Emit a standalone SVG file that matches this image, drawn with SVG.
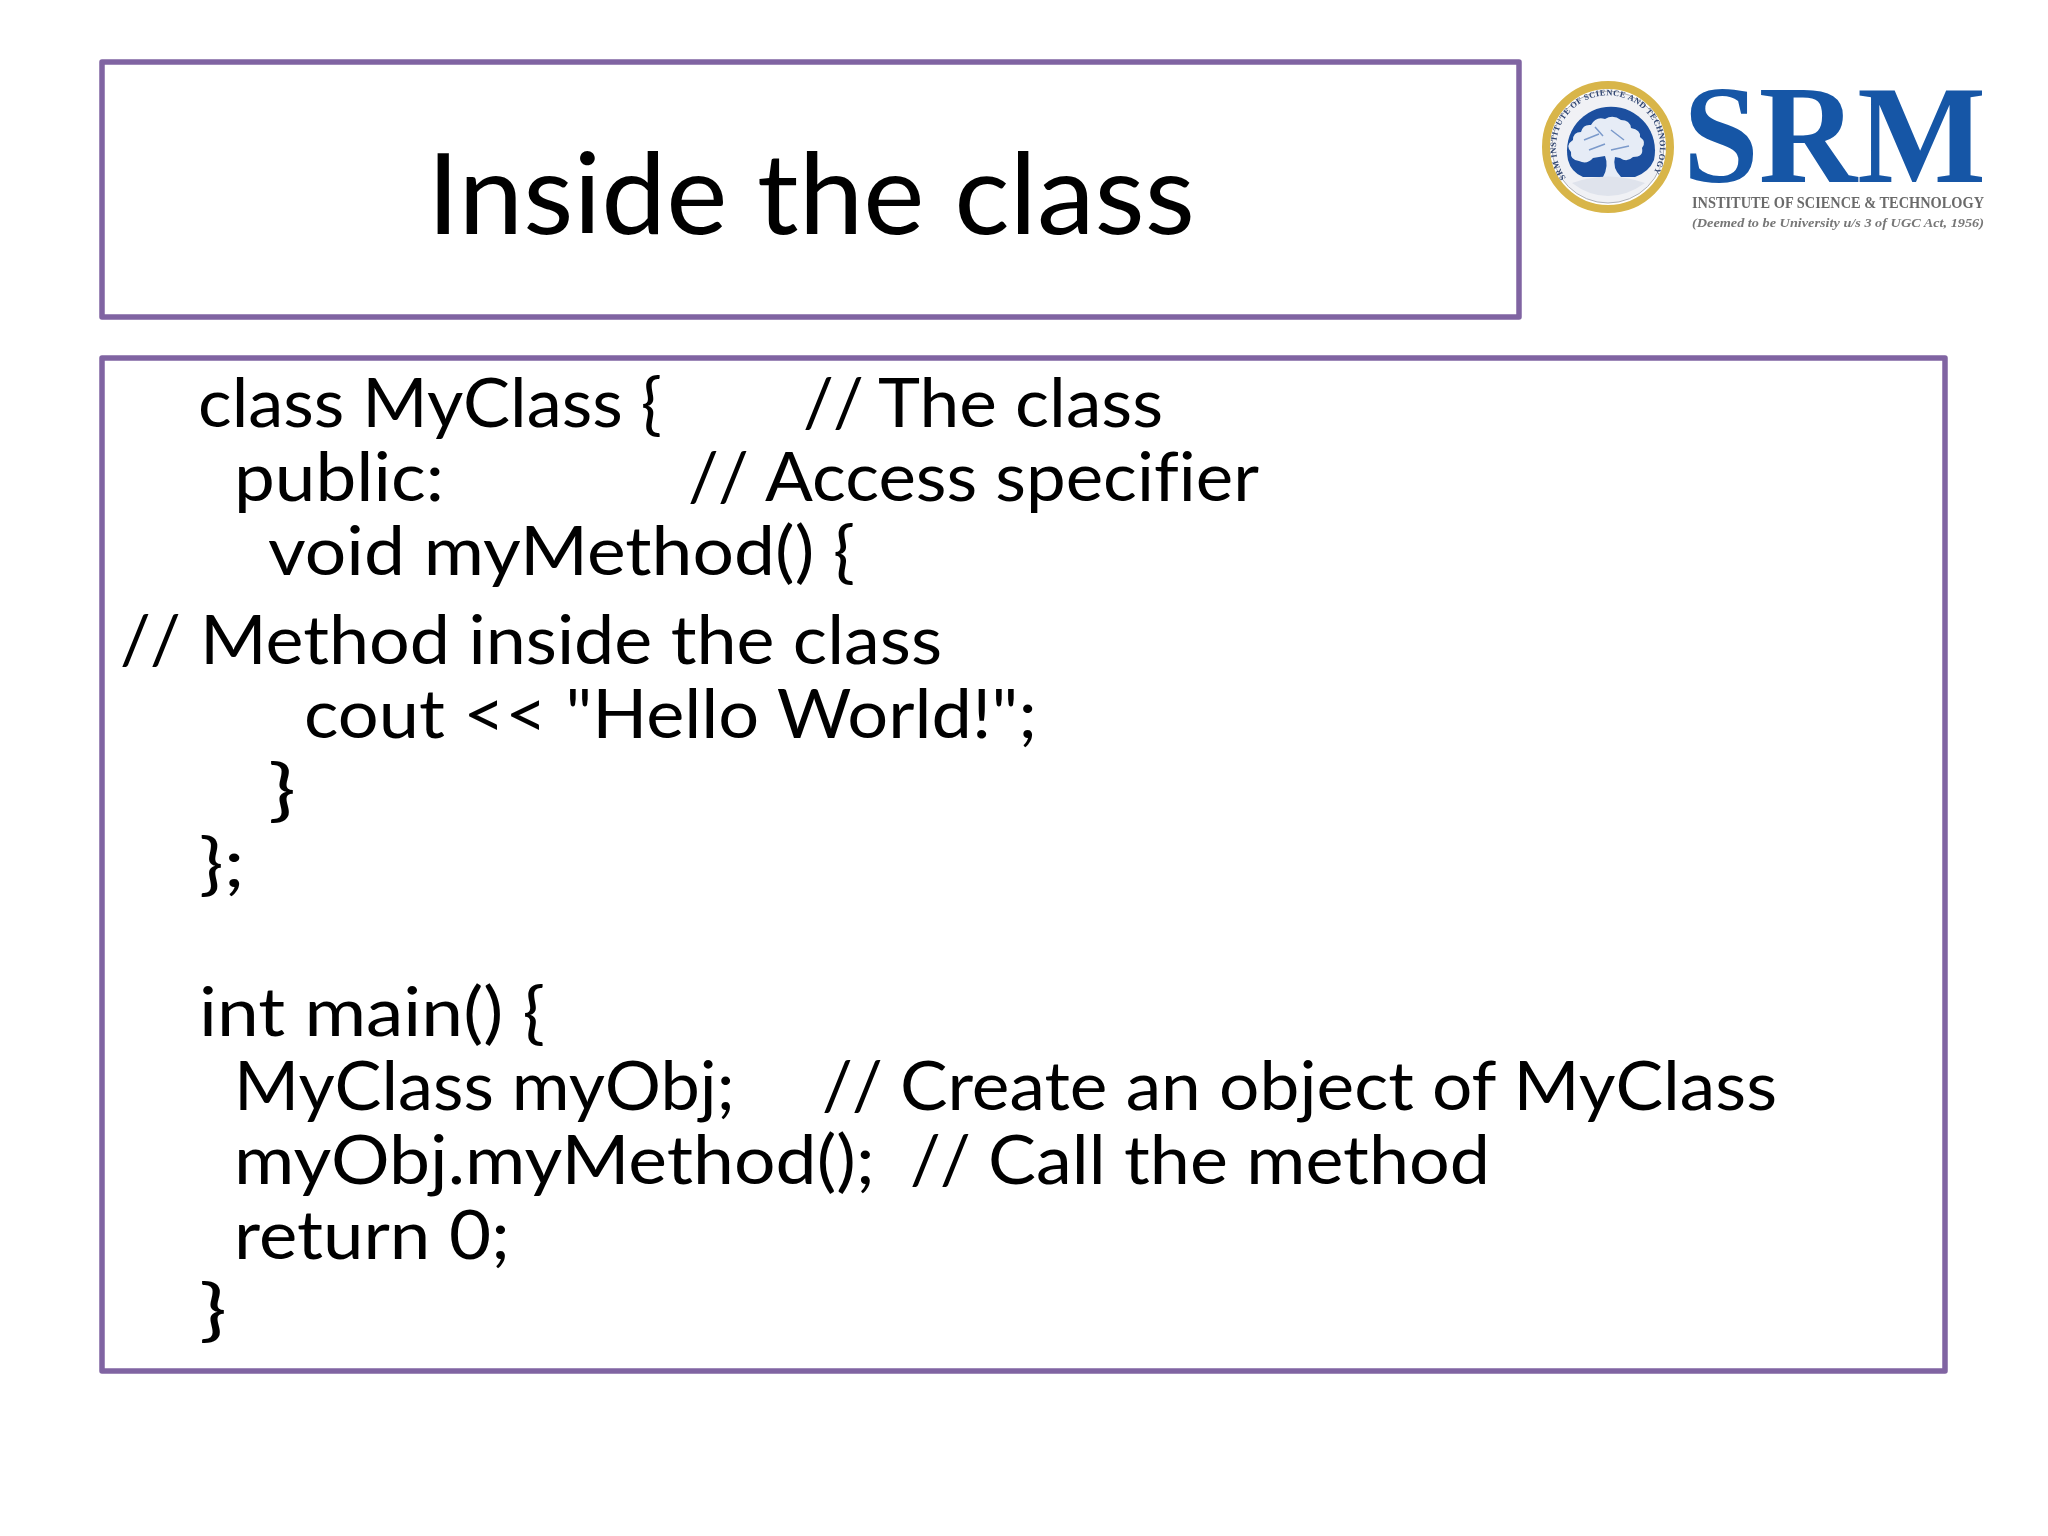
<svg xmlns="http://www.w3.org/2000/svg" width="2048" height="1536" viewBox="0 0 2048 1536">
<defs>
<style>
.box{fill:#fff;stroke:#8064a2;stroke-width:5.5;stroke-linejoin:round}
.t{font-family:"Lato","Carlito","Liberation Sans",sans-serif;fill:#000;font-size:68px;font-variant-ligatures:none}
.s{font-family:"Liberation Serif",serif}
</style>
<filter id="soft" x="-5%" y="-5%" width="110%" height="110%"><feGaussianBlur stdDeviation="0.7"/></filter>
<filter id="softer" x="-5%" y="-5%" width="110%" height="110%"><feGaussianBlur stdDeviation="0.45"/></filter>
<path id="ring" d="M1566 178A52 52 0 1 1 1650 178"/>
</defs>
<rect width="2048" height="1536" fill="#fff"/>
<g id="title-box">
<rect class="box" x="102" y="62" width="1417" height="255"/>
<text class="t" style="font-size:112px" x="427" y="234" textLength="768" lengthAdjust="spacingAndGlyphs">Inside the class</text>
</g>
<g id="logo">
<g filter="url(#soft)">
<circle cx="1608" cy="147" r="62" fill="#fff" stroke="#d8b548" stroke-width="8"/>
<circle cx="1608" cy="147" r="56" fill="#f0f1f5" stroke="#9a9ea8" stroke-width="0.8"/>
<path d="M1568 160A44 44 0 1 1 1654 160Q1649 172 1635 177L1583 177Q1571 172 1568 160Z" fill="#1a4f9f"/>
<path d="M1603 177Q1609 166 1605 156L1593 158Q1587 165 1579 161Q1570 160 1571 152Q1565 145 1573 140Q1573 132 1581 132Q1583 124 1591 125Q1596 116 1605 119Q1613 114 1621 120Q1630 120 1631 128Q1641 130 1640 137Q1647 142 1642 148Q1644 157 1633 157Q1627 163 1620 158L1615 157Q1612 168 1621 177Z" fill="#e6ecf6"/>
<path d="M1584 140L1599 134M1611 130L1624 140M1589 150L1605 144M1611 150L1629 146M1595 127L1603 136" stroke="#7b9acb" stroke-width="1.5" fill="none"/>
<path d="M1572 183Q1608 170 1645 183Q1627 196 1608 196Q1589 196 1572 183Z" fill="#dfe3ec"/>
<text class="s" font-size="8.5" font-weight="bold" fill="#2f4470" letter-spacing="0.45"><textPath href="#ring">SRM INSTITUTE OF SCIENCE AND TECHNOLOGY</textPath></text>
</g>
<g filter="url(#softer)">
<text class="s" x="1683" y="182" font-size="140" font-weight="bold" fill="#1556a6" textLength="303" lengthAdjust="spacingAndGlyphs">SRM</text>
<text class="s" x="1692" y="208" font-size="17" font-weight="bold" fill="#6a6a6a" textLength="292" lengthAdjust="spacingAndGlyphs">INSTITUTE OF SCIENCE &amp; TECHNOLOGY</text>
<text class="s" x="1692" y="227" font-size="13.5" font-style="italic" font-weight="bold" fill="#777" textLength="292" lengthAdjust="spacingAndGlyphs">(Deemed to be University u/s 3 of UGC Act, 1956)</text>
</g>
</g>
<g id="code-box">
<rect class="box" x="102" y="358" width="1843" height="1013"/>
<text class="t" x="198" y="427" textLength="464" lengthAdjust="spacingAndGlyphs">class MyClass {</text>
<text class="t" y="427"><tspan x="803 833">//</tspan> <tspan x="878" textLength="285" lengthAdjust="spacingAndGlyphs">The class</tspan></text>
<text class="t" x="234" y="501" textLength="210" lengthAdjust="spacingAndGlyphs">public:</text>
<text class="t" y="501"><tspan x="688 718">//</tspan> <tspan x="765" textLength="494" lengthAdjust="spacingAndGlyphs">Access specifier</tspan></text>
<text class="t" x="268" y="575" textLength="587" lengthAdjust="spacingAndGlyphs">void myMethod() {</text>
<text class="t" y="664"><tspan x="120 150">//</tspan> <tspan x="200" textLength="742" lengthAdjust="spacingAndGlyphs">Method inside the class</tspan></text>
<text class="t" x="304" y="738" textLength="733" lengthAdjust="spacingAndGlyphs">cout &lt;&lt; "Hello World!";</text>
<text class="t" x="268" y="813" textLength="28" lengthAdjust="spacingAndGlyphs">}</text>
<text class="t" x="199" y="887" textLength="46" lengthAdjust="spacingAndGlyphs">};</text>
<text class="t" x="199" y="1036" textLength="346" lengthAdjust="spacingAndGlyphs">int main() {</text>
<text class="t" x="234" y="1110" textLength="501" lengthAdjust="spacingAndGlyphs">MyClass myObj;</text>
<text class="t" y="1110"><tspan x="822 852">//</tspan> <tspan x="900" textLength="877" lengthAdjust="spacingAndGlyphs">Create an object of MyClass</tspan></text>
<text class="t" x="234" y="1184" textLength="641" lengthAdjust="spacingAndGlyphs">myObj.myMethod();</text>
<text class="t" y="1184"><tspan x="910 940">//</tspan> <tspan x="988" textLength="502" lengthAdjust="spacingAndGlyphs">Call the method</tspan></text>
<text class="t" x="234" y="1259" textLength="276" lengthAdjust="spacingAndGlyphs">return 0;</text>
<text class="t" x="199" y="1333" textLength="28" lengthAdjust="spacingAndGlyphs">}</text>
</g>
</svg>
